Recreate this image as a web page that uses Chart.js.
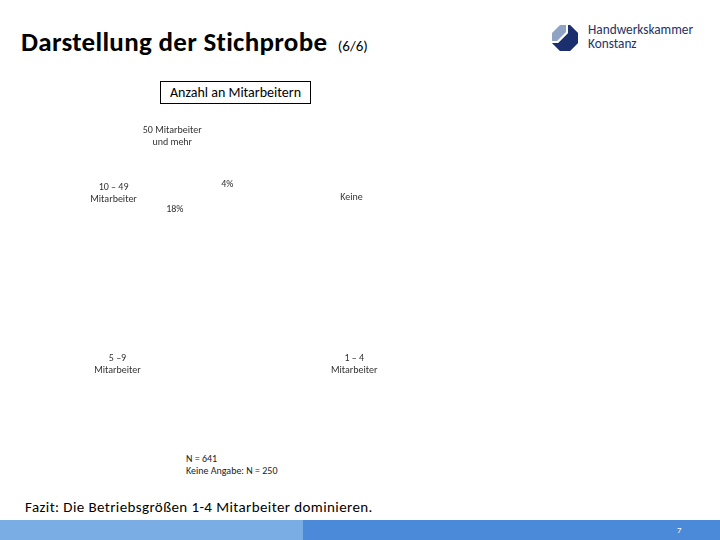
<!DOCTYPE html>
<html>
<head>
<meta charset="utf-8">
<script src="https://cdn.jsdelivr.net/npm/chart.js@4/dist/chart.umd.min.js"></script>
<style>
  body { margin: 0; width: 720px; height: 540px; background: #fff; position: relative; overflow: hidden;
         font-family: 'Carlito', 'Lato', 'Liberation Sans', sans-serif; color: #000; }
  .abs { position: absolute; }
  #title { left: 21px; top: 25px; font-size: 27px; font-weight: bold; letter-spacing: 0.3px; white-space: nowrap; }
  #title small { font-size: 15px; font-weight: normal; letter-spacing: 0; margin-left: 4px; }
  #logoText { left: 588px; top: 23px; font-size: 13.3px; line-height: 14px; color: #1e3266; }
  #box { left: 160px; top: 81px; width: 149px; height: 21px; border: 1px solid #000; font-size: 14px;
         line-height: 21px; text-align: center; }
  #note { left: 186px; top: 453px; font-size: 10px; line-height: 12px; color: #222; }
  #fazit { left: 25px; top: 498px; font-size: 15px; letter-spacing: 0.4px; white-space: nowrap; }
  #barL { left: 0; top: 520px; width: 303px; height: 20px; background: #7aade3; }
  #barR { left: 303px; top: 520px; width: 417px; height: 20px; background: #4a8ad8; }
  #page { left: 677px; top: 524px; font-size: 9px; color: #fff; }
  #chart { left: 55px; top: 100px; }
</style>
</head>
<body>
<div id="title" class="abs">Darstellung der Stichprobe <small>(6/6)</small></div>
<svg class="abs" style="left:552px;top:25px" width="26" height="26" viewBox="0 0 26 26">
  <polygon points="8,0 18,0 26,8 26,18 18,26 8,26 0,18 0,8" fill="#8fa3c4"/>
  <polygon points="18,0 26,8 26,18 18,26 8,26 0,18 6,18 16,8 16,0" fill="#1b2f6e"/>
  <polygon points="16,0 16,8 6,18 0,18 0,16 5,16 14,7 14,0" fill="#fff"/>
</svg>
<div id="logoText" class="abs">Handwerkskammer<br>Konstanz</div>
<div id="box" class="abs">Anzahl an Mitarbeitern</div>
<canvas id="chart" class="abs" width="360" height="340"></canvas>
<div id="note" class="abs">N = 641<br>Keine Angabe: N = 250</div>
<div id="fazit" class="abs">Fazit: Die Betriebsgrößen 1-4 Mitarbeiter dominieren.</div>
<div id="barL" class="abs"></div>
<div id="barR" class="abs"></div>
<div id="page" class="abs">7</div>

<script>
// Werte (Prozent), Reihenfolge im Uhrzeigersinn ab oben
const categories = ['Keine', '1 – 4 Mitarbeiter', '5 – 9 Mitarbeiter', '10 – 49 Mitarbeiter', '50 Mitarbeiter und mehr']
const categoryLines = [['Keine'], ['1 – 4', 'Mitarbeiter'], ['5 –9', 'Mitarbeiter'], ['10 – 49', 'Mitarbeiter'], ['50 Mitarbeiter', 'und mehr']]
const shares = [10, 46, 22, 18, 4]

// Segmente sind im Original nicht sichtbar (weiß auf weiß), nur einige Prozentwerte
const percentColors = ['#ffffff', '#ffffff', '#ffffff', '#333333', '#333333']

// Lage der Kategorienamen: Winkel (Grad, ab oben im Uhrzeigersinn) und Abstand relativ zum Radius
const labelLayout = [
    { angle: 58, dist: 1.254 },
    { angle: 128.4, dist: 1.39 },
    { angle: 231.2, dist: 1.377 },
    { angle: 302.3, dist: 1.312 },
    { angle: 334.8, dist: 1.346 }
]

const labelPlugin = {
    id: 'pieLabels',
    afterDatasetsDraw(chart) {
        const ctx = chart.ctx
        const arcs = chart.getDatasetMeta(0).data
        ctx.save()
        ctx.textAlign = 'center'
        ctx.textBaseline = 'middle'
        arcs.forEach((arc, i) => {
            const p = arc.getProps(['x', 'y', 'startAngle', 'endAngle', 'outerRadius'], true)
            // Prozentwert im Segment
            const mid = (p.startAngle + p.endAngle) / 2
            const r = p.outerRadius * 0.78
            ctx.font = '10px Carlito, Lato, sans-serif'
            ctx.fillStyle = percentColors[i]
            ctx.fillText(shares[i] + '%', p.x + Math.cos(mid) * r, p.y + Math.sin(mid) * r)

            // Kategoriename außerhalb
            const a = labelLayout[i].angle * Math.PI / 180 - Math.PI / 2
            const d = p.outerRadius * labelLayout[i].dist
            const lx = p.x + Math.cos(a) * d
            const ly = p.y + Math.sin(a) * d
            const lines = categoryLines[i]
            const lh = 12
            ctx.fillStyle = '#333333'
            lines.forEach((t, k) => {
                ctx.fillText(t, lx, ly + (k - (lines.length - 1) / 2) * lh)
            })
        })
        ctx.restore()
    }
}

new Chart(document.getElementById('chart').getContext('2d'), {
    type: 'pie',
    data: {
        labels: categories,
        datasets: [{
            data: shares,
            backgroundColor: '#ffffff',
            borderColor: '#ffffff',
            borderWidth: 1
        }]
    },
    plugins: [labelPlugin],
    options: {
        responsive: false,
        animation: false,
        rotation: 2,
        layout: { padding: { left: 70, right: 70, top: 60, bottom: 60 } },
        plugins: {
            legend: { display: false },
            tooltip: { enabled: false }
        }
    }
})
</script>
</body>
</html>
